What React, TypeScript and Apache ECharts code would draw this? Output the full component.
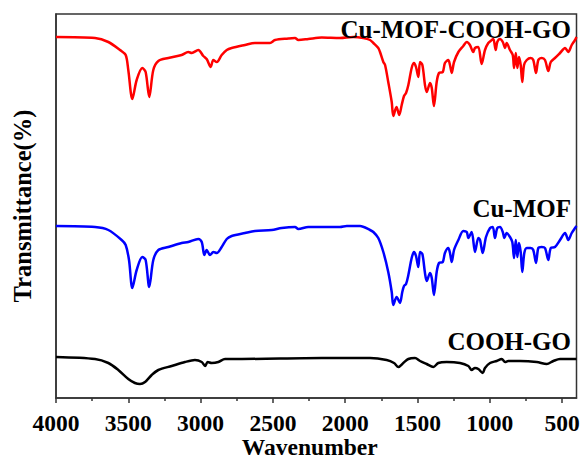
import React, { useEffect, useRef } from "react";
import * as echarts from "echarts";

// Tick labels (wavenumber, cm-1)
const majorTicks = [4000, 3500, 3000, 2500, 2000, 1500, 1000, 500];
const minorTicks = [3750, 3250, 2750, 2250, 1750, 1250, 750];

// Cu-MOF-COOH-GO (red)
const redWn = [4000, 3730, 3638, 3557, 3518, 3500, 3472, 3442, 3403, 3380, 3355, 3327, 3292, 3223, 3131, 3085, 3061, 3016, 2981, 2958, 2930, 2912, 2888, 2854, 2819, 2785, 2693, 2624, 2520, 2485, 2393, 2347, 2324, 2255, 2162, 2036, 1944, 1875, 1828, 1805, 1771, 1759, 1736, 1724, 1702, 1678, 1667, 1645, 1626, 1609, 1593, 1579, 1563, 1540, 1524, 1510, 1494, 1482, 1466, 1448, 1436, 1413, 1401, 1386, 1367, 1351, 1325, 1310, 1287, 1275, 1263, 1247, 1217, 1183, 1159, 1137, 1114, 1102, 1079, 1056, 1033, 1010, 986, 975, 959, 948, 929, 910, 894, 883, 860, 841, 832, 820, 809, 798, 786, 775, 763, 744, 717, 699, 680, 664, 641, 618, 595, 578, 549, 514, 479, 457, 433, 410, 400];
const redT = [361, 360, 356, 348, 343, 328, 299, 318, 330, 326, 301, 328, 337, 340, 343, 346, 345, 348, 342, 339, 331, 338, 336, 343, 348, 350, 353, 355, 355, 358, 359.5, 360, 358, 359, 360.5, 360, 361, 360, 358, 355, 350, 346, 336, 333, 316, 296, 282, 291, 283, 293, 302, 305, 313, 330, 335, 331, 321, 336, 333, 313, 306, 315, 310, 292, 316, 325, 326, 335, 338, 333, 325, 336, 346, 352, 356, 353, 346, 350, 351, 334, 348, 355, 358, 359, 348, 356, 359, 356, 350, 355, 348, 343, 330, 345, 330, 341, 333, 316, 333, 338, 340, 338, 325, 338, 340, 338, 327, 336, 340, 345, 350, 346, 353, 358, 361];

// Cu-MOF (blue)
const blueWn = [4000, 3730, 3638, 3546, 3518, 3495, 3472, 3442, 3403, 3380, 3355, 3327, 3292, 3223, 3131, 3085, 3016, 2992, 2974, 2958, 2935, 2912, 2888, 2854, 2819, 2785, 2693, 2624, 2508, 2439, 2347, 2324, 2255, 2162, 2036, 1989, 1897, 1828, 1805, 1771, 1736, 1702, 1678, 1667, 1644, 1621, 1605, 1593, 1579, 1563, 1540, 1524, 1510, 1494, 1482, 1466, 1448, 1436, 1413, 1401, 1386, 1367, 1351, 1325, 1310, 1287, 1275, 1263, 1247, 1217, 1183, 1159, 1148, 1125, 1102, 1079, 1067, 1049, 1026, 998, 979, 964, 948, 929, 910, 899, 883, 860, 844, 832, 820, 809, 798, 786, 775, 761, 744, 717, 699, 680, 664, 641, 618, 595, 578, 549, 514, 479, 457, 433, 410, 400];
const blueT = [172, 171, 168, 158, 153, 138, 110, 128, 141, 138, 111, 138, 148, 151, 155, 156, 159, 156, 143, 148, 143, 146, 145, 151, 159, 162, 165, 167, 168, 170, 171, 169, 171, 171, 171, 172, 172, 168, 166, 160, 146, 126, 106, 93, 101, 95, 106, 112, 114, 123, 140, 146, 142, 131, 146, 144, 125, 117, 125, 120, 103, 126, 135, 136, 145, 150, 145, 136, 148, 158, 167, 166, 160, 166, 146, 160, 158, 145, 161, 170, 171, 160, 170, 171, 166, 160, 165, 161, 156, 140, 158, 141, 155, 146, 126, 145, 150, 150, 148, 135, 150, 151, 150, 138, 150, 151, 158, 165, 158, 165, 170, 172];

// COOH-GO (black)
const blackWn = [4000, 3730, 3638, 3569, 3500, 3454, 3419, 3384, 3338, 3292, 3200, 3108, 3039, 2992, 2969, 2951, 2923, 2877, 2831, 2739, 2162, 1828, 1713, 1662, 1632, 1598, 1563, 1517, 1482, 1436, 1390, 1356, 1298, 1206, 1148, 1125, 1102, 1079, 1049, 1033, 998, 952, 917, 894, 872, 791, 675, 606, 560, 514, 400];
const blackT = [41, 39, 35, 28, 19, 15, 14, 16, 23, 28, 32, 36, 38, 36, 32, 36, 35, 36, 39, 39, 40, 40, 38, 35, 31, 35, 39, 40, 37, 34, 31, 35, 36, 35, 32, 28, 30, 29, 25, 30, 35, 37, 39, 36, 37, 37, 36, 34, 37, 39, 39];

const seriesNames = ["Cu-MOF-COOH-GO", "Cu-MOF", "COOH-GO"];
const seriesColors = ["#ff0000", "#0000ff", "#000000"];

const FONT = "Liberation Serif";

function pairs(wn: number[], t: number[]) {
  return wn.map((w, i) => [-w, t[i]]);
}

export default function App() {
  const ref = useRef<HTMLDivElement>(null);
  useEffect(() => {
    if (!ref.current) return;
    const chart = echarts.init(ref.current, null, { renderer: "svg" });
    const datasets = [pairs(redWn, redT), pairs(blueWn, blueT), pairs(blackWn, blackT)];
    chart.setOption({
      animation: false,
      backgroundColor: "#ffffff",
      grid: {
        left: 56,
        right: 7.5,
        top: 14,
        bottom: 61,
        outerBoundsMode: "none",
        containLabel: false,
        show: true,
        borderColor: "#333",
        borderWidth: 1.5,
        backgroundColor: "transparent",
      },
      xAxis: [
        {
          type: "value",
          min: -4000,
          max: -400,
          position: "bottom",
          name: "Wavenumber",
          nameLocation: "middle",
          nameGap: 40,
          nameMoveOverlap: false,
          nameTextStyle: {
            fontFamily: FONT,
            fontWeight: "bold",
            fontSize: 23.5,
            lineHeight: 18,
            color: "#000",
            padding: [0, 13, 0, 0],
          },
          axisLine: { show: true, lineStyle: { color: "#333", width: 1.5 } },
          axisTick: {
            show: true,
            customValues: majorTicks.map((v) => -v),
            length: 5,
            lineStyle: { color: "#333", width: 1.5 },
          },
          axisLabel: {
            show: true,
            customValues: majorTicks.map((v) => -v),
            formatter: (v: number) => String(-v),
            fontFamily: FONT,
            fontWeight: "bold",
            fontSize: 23.5,
            lineHeight: 18,
            color: "#000",
            margin: 15.5,
          },
          splitLine: { show: false },
        },
        {
          type: "value",
          min: -4000,
          max: -400,
          position: "bottom",
          axisLine: { show: false },
          axisTick: {
            show: true,
            customValues: minorTicks.map((v) => -v),
            length: 3,
            lineStyle: { color: "#333", width: 1.5 },
          },
          axisLabel: { show: false },
          splitLine: { show: false },
        },
      ],
      yAxis: {
        type: "value",
        min: 0,
        max: 384,
        name: "Transmittance(%)",
        nameLocation: "middle",
        nameGap: 21,
        nameMoveOverlap: false,
        nameTextStyle: {
          fontFamily: FONT,
          fontWeight: "bold",
          fontSize: 24.5,
          color: "#000",
        },
        axisLine: { show: true, lineStyle: { color: "#333", width: 1.5 } },
        axisTick: { show: false },
        axisLabel: { show: false },
        splitLine: { show: false },
      },
      series: datasets.map((d, i) => ({
        name: seriesNames[i],
        type: "line",
        data: d,
        xAxisIndex: 0,
        showSymbol: false,
        symbol: "none",
        smooth: 0.3,
        lineStyle: { color: seriesColors[i], width: 2.5 },
        z: 3 - i,
      })),
      graphic: [
        { y: 29, text: seriesNames[0] },
        { y: 208, text: seriesNames[1] },
        { y: 341, text: seriesNames[2] },
      ].map((g) => ({
        type: "text",
        x: 571,
        y: g.y,
        z: 10,
        style: {
          text: g.text,
          fill: "#000",
          font: `bold 25px "${FONT}"`,
          align: "right",
          verticalAlign: "middle",
        },
      })),
    });
    return () => chart.dispose();
  }, []);
  return (
    <div
      ref={ref}
      style={{ position: "fixed", left: 0, top: 0, width: 584, height: 459, background: "#fff" }}
    />
  );
}
